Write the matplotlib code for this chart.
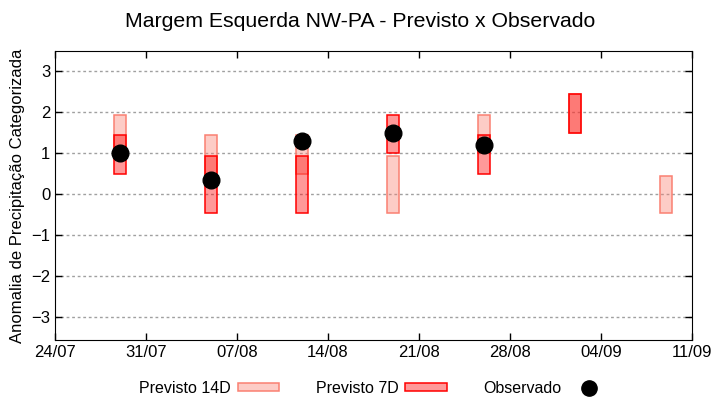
import numpy as np
import matplotlib.pyplot as plt
import matplotlib.dates as mdates
from matplotlib.patches import Patch
from matplotlib.lines import Line2D

plt.rcParams['font.family'] = ['Liberation Sans', 'DejaVu Sans']

# Semanas (centro de cada barra)
semanas = np.array(['2024-07-29', '2024-08-05', '2024-08-12', '2024-08-19',
                    '2024-08-26', '2024-09-02', '2024-09-09'], dtype='datetime64[D]')

# Previsto 14D (limites inferior e superior)
p14_lo = [1.0, 0.2, 0.5, -0.45, 1.0, 1.5, -0.45]
p14_hi = [1.95, 1.45, 1.45, 0.95, 1.95, 2.45, 0.45]

# Previsto 7D
p7_lo = [0.5, -0.45, -0.45, 1.0, 0.5, 1.5, np.nan]
p7_hi = [1.45, 0.95, 0.95, 1.95, 1.45, 2.45, np.nan]

# Observado
obs = [1.0, 0.35, 1.3, 1.5, 1.2, np.nan, np.nan]

ticks_x = np.array(['2024-07-24', '2024-07-31', '2024-08-07', '2024-08-14',
                    '2024-08-21', '2024-08-28', '2024-09-04', '2024-09-11'],
                   dtype='datetime64[D]')

x = semanas.astype('datetime64[ms]').astype(object)
p14_lo = np.array(p14_lo)
p14_hi = np.array(p14_hi)
p7_lo = np.array(p7_lo)
p7_hi = np.array(p7_hi)

fig = plt.figure(figsize=(7.2, 4.0), dpi=100)
ax = fig.add_axes([0.0764, 0.15, 0.8846, 0.7225])

ax.bar(x, p14_hi - p14_lo, bottom=p14_lo, width=0.9,
       facecolor=(250/255, 128/255, 114/255, 0.4), edgecolor='salmon', linewidth=1.1, zorder=2)
ax.bar(x, p7_hi - p7_lo, bottom=p7_lo, width=0.9,
       facecolor=(1, 0, 0, 0.4), edgecolor='red', linewidth=1.1, zorder=3)
ax.plot(x, obs, 'o', color='black', markersize=12, linestyle='none', zorder=4)

ax.set_xlim(ticks_x[0].astype(object), ticks_x[-1].astype(object))
ax.set_ylim(-3.55, 3.5)
ax.set_xticks([t.astype(object) for t in ticks_x])
ax.xaxis.set_major_formatter(mdates.DateFormatter('%d/%m'))
ax.set_yticks([-3, -2, -1, 0, 1, 2, 3])

ax.tick_params(direction='in', length=5, top=True, right=True, labelsize=12, width=1)
for lab in ax.get_xticklabels():
    lab.set_family(['Liberation Sans Narrow', 'Liberation Sans'])
    lab.set_fontsize(12)
ax.yaxis.grid(True, linestyle=(0, (2, 2)), color='#a0a0a0', linewidth=1)
ax.set_axisbelow(True)

ax.set_ylabel('Anomalia de Precipitação Categorizada', fontsize=12, labelpad=4)
fig.suptitle('Margem Esquerda NW-PA - Previsto x Observado', fontsize=15.3, y=0.97)

handles = [
    Patch(facecolor=(250/255, 128/255, 114/255, 0.4), edgecolor='salmon', linewidth=1.1),
    Patch(facecolor=(1, 0, 0, 0.4), edgecolor='red', linewidth=1.1),
    Line2D([], [], marker='o', color='black', linestyle='none', markersize=11),
]
fig.legend(handles, ['Previsto 14D', 'Previsto 7D', 'Observado'], loc='lower center',
           bbox_to_anchor=(0.52, -0.025), ncol=3, frameon=False, markerfirst=False,
           fontsize=11.5, handlelength=2.6, handleheight=0.35, handletextpad=0.4,
           columnspacing=2.3)

fig.savefig('out.png', dpi=100)
